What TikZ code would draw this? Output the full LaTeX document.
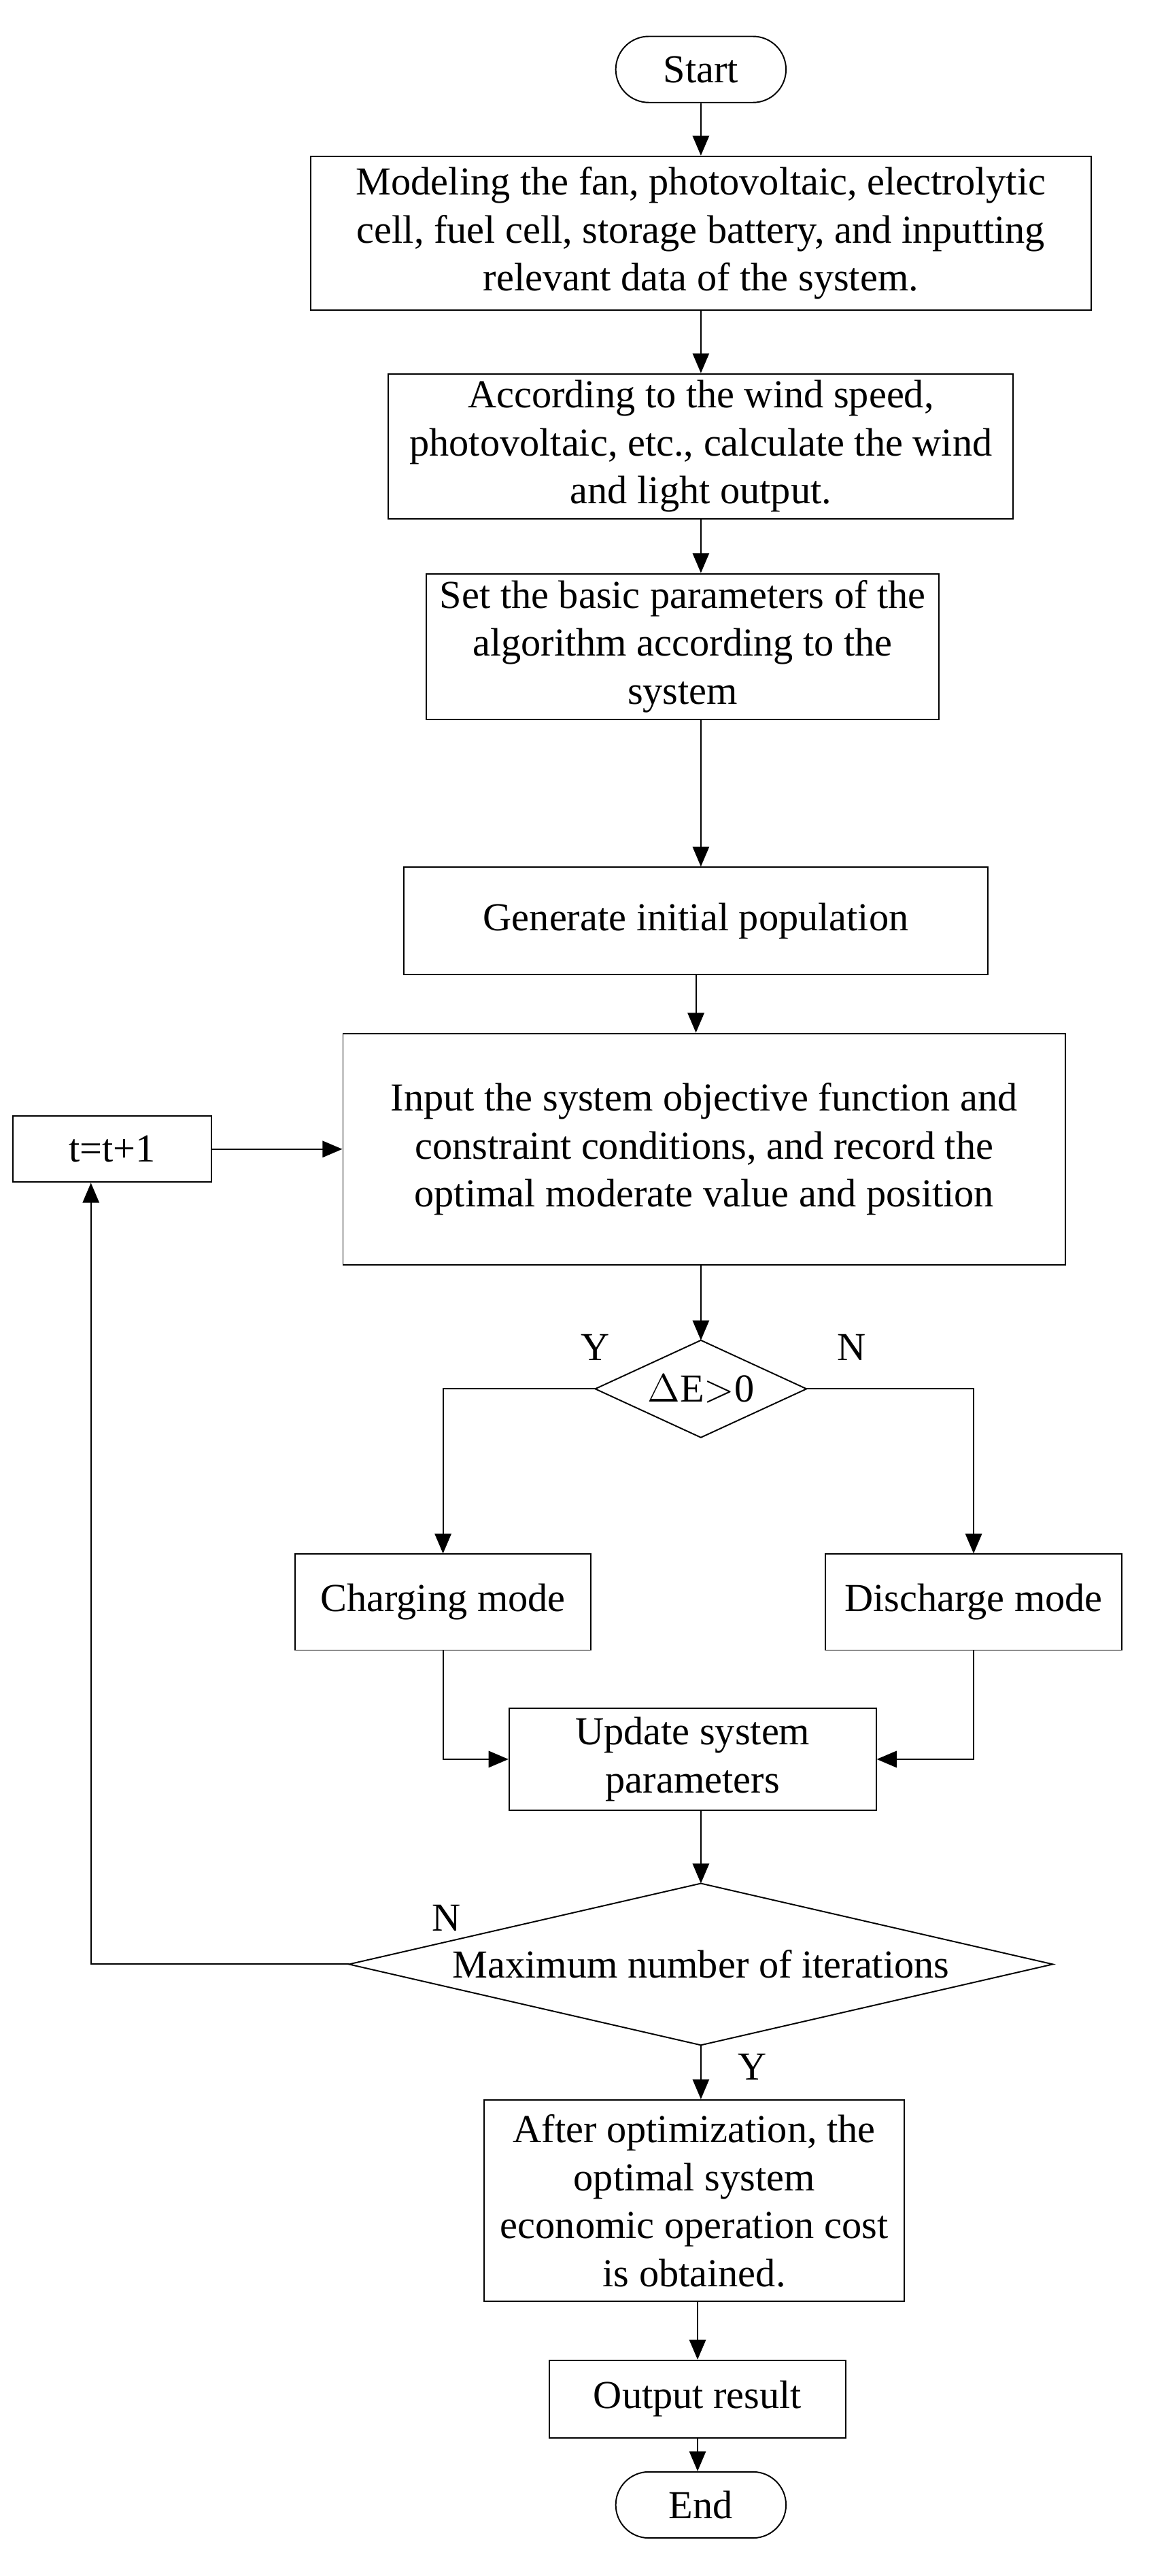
\documentclass[tikz,border=0pt]{standalone}
\usepackage{fontspec}
\setmainfont{Liberation Serif}
\usetikzlibrary{arrows.meta}
\begin{document}
\begin{tikzpicture}[x=0.5pt,y=-0.5pt,font=\fontsize{12}{14.5}\selectfont,
  box/.style={draw,inner sep=2pt,align=center},
  term/.style={draw,rounded corners=10pt,minimum width=51.5pt,minimum height=20pt},
  dec/.style={inner sep=0pt},
  arr/.style={-{Triangle[length=6pt,width=5pt]}}]
\useasboundingbox (0,0) rectangle (695,1558);
\node [term] (start) at (424,42) {Start};
\node [box,minimum width=236pt,minimum height=46.5pt] (model) at (424,141)
  {Modeling the fan, photovoltaic, electrolytic\\cell, fuel cell, storage battery, and inputting\\relevant data of the system.};
\node [box,minimum width=189pt,minimum height=42pt] (calc) at (424,270)
  {According to the wind speed,\\photovoltaic, etc., calculate the wind\\and light output.};
\node [box,minimum width=155pt,minimum height=44pt] (param) at (413,391)
  {Set the basic parameters of the\\algorithm according to the\\system};
\node [box,minimum width=176.5pt,minimum height=32.5pt] (init) at (421,557) {Generate initial population};
\node [box,minimum width=218.5pt,minimum height=70pt] (obj) at (426,695)
  {Input the system objective function and\\constraint conditions, and record the\\optimal moderate value and position};
\node [box,minimum width=60pt,minimum height=20pt] (inc) at (68,695) {t=t+1};
\node [dec,minimum width=63.5pt,minimum height=29pt] (de) at (424,840) {$\Delta$E$>$0};
\draw (de.west) -- (de.north) -- (de.east) -- (de.south) -- cycle;
\node [box,minimum width=89.5pt,minimum height=29pt] (chg) at (268,969) {Charging mode};
\node [box,minimum width=89.5pt,minimum height=29pt] (dis) at (589,969) {Discharge mode};
\node [box,minimum width=111pt,minimum height=31pt] (upd) at (419,1064) {Update system\\parameters};
\node [dec,minimum width=212.5pt,minimum height=48.5pt] (max) at (424,1188) {Maximum number of iterations};
\draw (max.west) -- (max.north) -- (max.east) -- (max.south) -- cycle;
\node [box,minimum width=127pt,minimum height=61pt] (opt) at (420,1331)
  {After optimization, the\\optimal system\\economic operation cost\\is obtained.};
\node [box,minimum width=89.5pt,minimum height=23.5pt] (out) at (422,1451) {Output result};
\node [term] (end) at (424,1515) {End};
\coordinate (corner) at (55,1188);
\draw [arr] (start) -- (model);
\draw [arr] (model) -- (calc);
\draw [arr] (calc) -- (calc|-param.north);
\draw [arr] (param.south-|calc) -- (calc|-init.north);
\draw [arr] (init) -- (init|-obj.north);
\draw [arr] (obj.south-|de) -- (de.north);
\draw [arr] (de.west) -| (chg);
\draw [arr] (de.east) -| (dis);
\draw [arr] (chg) |- (upd);
\draw [arr] (dis) |- (upd);
\draw [arr] (upd.south-|max) -- (max.north);
\draw [arr] (max.south) -- (max.south|-opt.north);
\draw [arr] (opt.south-|out) -- (out);
\draw [arr] (out) -- (out|-end.north);
\draw [arr] (max.west) -- (corner) -- (corner|-inc.south);
\draw [arr] (inc) -- (obj);
\node at (360,815) {Y};
\node at (515,815) {N};
\node at (270,1160) {N};
\node at (455,1250) {Y};
\end{tikzpicture}
\end{document}
